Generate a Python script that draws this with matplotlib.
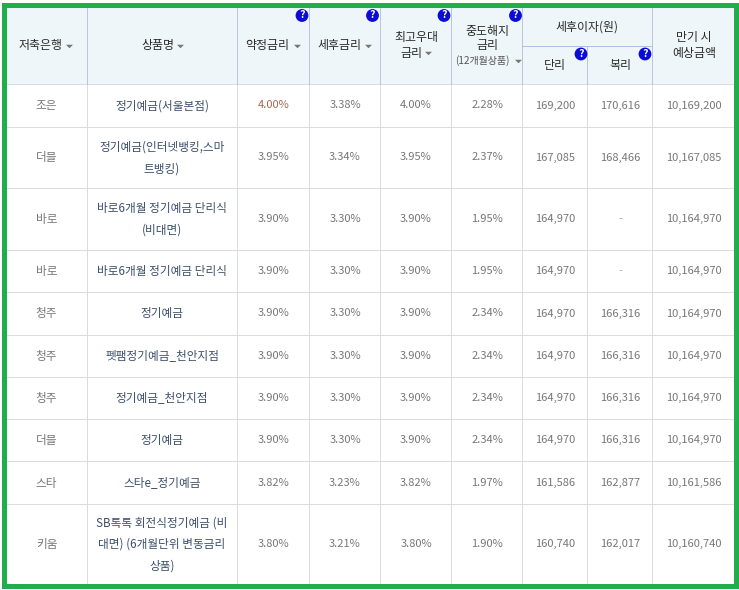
import matplotlib
matplotlib.use("Agg")
import matplotlib.pyplot as plt
from matplotlib.patches import Circle, Rectangle

plt.rcParams["font.family"] = ["Noto Sans CJK KR", "DejaVu Sans"]

banks = ["조은", "더블", "바로", "바로", "청주", "청주", "청주", "더블", "스타", "키움"]
products = [
    "정기예금(서울본점)",
    "정기예금(인터넷뱅킹,스마\n트뱅킹)",
    "바로6개월 정기예금 단리식\n(비대면)",
    "바로6개월 정기예금 단리식",
    "정기예금",
    "펫팸정기예금_천안지점",
    "정기예금_천안지점",
    "정기예금",
    "스타e_정기예금",
    "SB톡톡 회전식정기예금 (비\n대면) (6개월단위 변동금리\n상품)",
]
contract_rate = ["4.00%", "3.95%", "3.90%", "3.90%", "3.90%", "3.90%", "3.90%", "3.90%", "3.82%", "3.80%"]
after_tax_rate = ["3.38%", "3.34%", "3.30%", "3.30%", "3.30%", "3.30%", "3.30%", "3.30%", "3.23%", "3.21%"]
best_rate = ["4.00%", "3.95%", "3.90%", "3.90%", "3.90%", "3.90%", "3.90%", "3.90%", "3.82%", "3.80%"]
early_rate = ["2.28%", "2.37%", "1.95%", "1.95%", "2.34%", "2.34%", "2.34%", "2.34%", "1.97%", "1.90%"]
simple_interest = ["169,200", "167,085", "164,970", "164,970", "164,970", "164,970", "164,970", "164,970", "161,586", "160,740"]
compound_interest = ["170,616", "168,466", "-", "-", "166,316", "166,316", "166,316", "166,316", "162,877", "162,017"]
maturity = ["10,169,200", "10,167,085", "10,164,970", "10,164,970", "10,164,970", "10,164,970", "10,164,970", "10,164,970", "10,161,586", "10,160,740"]

# pixel layout of the table
col_edges = [6, 87, 237, 309, 380, 451, 522, 587, 652, 733]
row_edges = [84, 127, 188, 250, 292, 335, 377, 419, 461, 504, 584]
col_nudge = [0, 0, 0.5, 0.5, 0.5, 0.5, 1, 1, 1.5]
col_size = [8.4, 8.4, 8.0, 8.0, 8.0, 8.0, 8.0, 8.0, 8.0]
header_top = 7
sub_y = 46

GREEN = "#22ad4c"
HEADER_BG = "#eef6f9"
HEADER_LINE = "#b9c7d8"
SUB_LINE = "#a9c4e4"
ROW_LINE = "#dcdcdc"
HEADER_TEXT = "#2a2a2a"
CELL_TEXT = "#777777"
LINK_TEXT = "#3c4f6b"
ARROW = [(-1, 0.5), (1, 0.5), (0, -0.5)]

fig = plt.figure(figsize=(7.39, 5.90), dpi=100)
ax = fig.add_axes([0, 0, 1, 1])
ax.set_xlim(0, 739)
ax.set_ylim(590, 0)
ax.axis("off")


def mid(a, b):
    return (a + b) / 2


def header(x, y, s, size=8.6):
    ax.text(x, y, s, ha="center", va="center_baseline", fontsize=size, color=HEADER_TEXT,
            weight="medium")


def sort_arrow(x, y):
    ax.plot([x], [y], marker=ARROW, ms=5.0, color="#777777", mew=0, zorder=4)


def help_icon(x, y):
    ax.add_patch(Circle((x, y), 5.7, color="#0b0bd8", zorder=4))
    ax.text(x, y, "?", ha="center", va="center", fontsize=7.6, color="white",
            weight="bold", zorder=5)


# header background
ax.add_patch(Rectangle((col_edges[0], header_top), col_edges[-1] - col_edges[0], row_edges[0] - header_top,
                       color=HEADER_BG, lw=0, zorder=0))

# grid
for y in row_edges[1:]:
    ax.plot([col_edges[0], col_edges[-1]], [y, y], color=ROW_LINE, lw=0.72, zorder=1)
ax.plot([col_edges[0], col_edges[-1]], [row_edges[0], row_edges[0]], color="#d5dde5", lw=0.72, zorder=1)
for x in col_edges[1:-1]:
    ax.plot([x, x], [row_edges[0], row_edges[-1]], color=ROW_LINE, lw=0.72, zorder=1)
    top = sub_y if x == col_edges[7] else header_top
    ax.plot([x, x], [top, row_edges[0]], color=HEADER_LINE, lw=0.72, zorder=2)
ax.plot([col_edges[6], col_edges[8]], [sub_y, sub_y], color=SUB_LINE, lw=0.72, zorder=2)

# header labels
header(40.5, 44.5, "저축은행")
sort_arrow(69, 45.5)
header(157.7, 44.5, "상품명")
sort_arrow(180, 45.5)
header(267.5, 44.5, "약정금리")
sort_arrow(297, 45.5)
header(339, 44.5, "세후금리")
sort_arrow(368, 45.5)
header(416, 36.5, "최고우대")
header(411, 52, "금리")
sort_arrow(428, 52.5)
header(487, 29.5, "중도해지")
header(487, 44.5, "금리")
ax.text(482, 59.5, "(12개월상품)", ha="center", va="center_baseline", fontsize=7.2, color="#555555")
sort_arrow(518, 60.5)
header(587, 25.5, "세후이자(원)")
header(mid(522, 587) + 0.5, 64.5, "단리")
header(mid(587, 652) + 0.5, 64.5, "복리")
header(694, 36.5, "만기 시")
header(694, 52.5, "예상금액")

# question mark badges
for hx, hy in [(302, 15.5), (372.5, 15.5), (444, 15.5), (515.5, 15.5), (581, 54), (645, 54)]:
    help_icon(hx, hy)

# body cells
columns = [banks, products, contract_rate, after_tax_rate, best_rate, early_rate,
           simple_interest, compound_interest, maturity]
for c, values in enumerate(columns):
    xc = mid(col_edges[c], col_edges[c + 1]) + col_nudge[c]
    for r, val in enumerate(values):
        yc = mid(row_edges[r], row_edges[r + 1]) - 1
        color = LINK_TEXT if c == 1 else CELL_TEXT
        if c == 2 and r == 0:
            color = "#a5694f"
        if val == "-":
            color = "#aaaaaa"
        lines = val.split("\n")
        for i, line in enumerate(lines):
            ax.text(xc, yc + (i - (len(lines) - 1) / 2) * 21.5, line, ha="center", va="center_baseline",
                    fontsize=col_size[c], color=color)

# green frame
ax.add_patch(Rectangle((3.5, 4.5), 732, 581.5, fill=False, ec=GREEN, lw=3.6, zorder=6))

fig.savefig("out.png", dpi=100)
